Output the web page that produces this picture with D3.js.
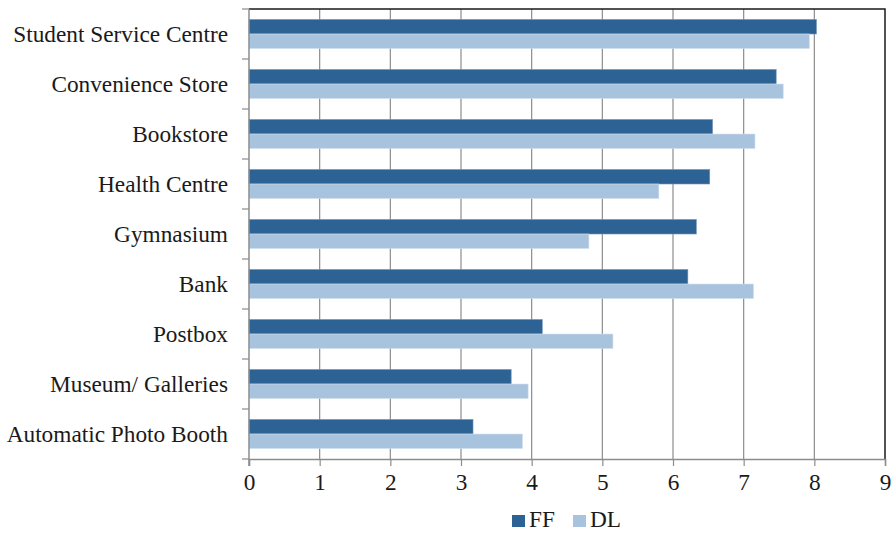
<!DOCTYPE html>
<html>
<head>
<meta charset="utf-8">
<script src="https://cdn.jsdelivr.net/npm/d3@7/dist/d3.min.js"></script>
<style>
  html, body { margin: 0; padding: 0; background: #fff; }
  svg { display: block; }
  text { font-family: "Liberation Serif", "Times New Roman", serif; fill: #1a1a1a; }
</style>
</head>
<body>
<svg id="chart" width="896" height="534"></svg>
<script>
// Campus facilities, top to bottom
const categories = [
  "Student Service Centre",
  "Convenience Store",
  "Bookstore",
  "Health Centre",
  "Gymnasium",
  "Bank",
  "Postbox",
  "Museum/ Galleries",
  "Automatic Photo Booth"
];
const seriesNames = ["FF", "DL"];
const ffValues = [8.03, 7.46, 6.56, 6.52, 6.33, 6.21, 4.15, 3.71, 3.17];
const dlValues = [7.93, 7.56, 7.16, 5.80, 4.81, 7.14, 5.15, 3.95, 3.87];
const xTicks = [0, 1, 2, 3, 4, 5, 6, 7, 8, 9];
const colors = ["#2d6394", "#a8c3de"];

const svg = d3.select("#chart");
const plotLeft = 249, plotRight = 885, plotTop = 9, plotBottom = 459;
const fontSize = 23.3;

const x = d3.scaleLinear().domain([0, 9]).range([plotLeft, plotRight]);
const y = d3.scaleBand().domain(categories).range([plotTop, plotBottom]).paddingInner(0.42).paddingOuter(0.21);
const ySub = d3.scaleBand().domain(seriesNames).range([0, y.bandwidth()]);

// vertical gridlines
svg.append("g").selectAll("line").data(xTicks.slice(1, -1)).join("line")
  .attr("x1", d => x(d)).attr("x2", d => x(d))
  .attr("y1", plotTop).attr("y2", plotBottom)
  .attr("stroke", "#8c8c8c").attr("stroke-width", 1.2);

// bars
const rows = categories.map((c, i) => ({ c, vals: [ffValues[i], dlValues[i]] }));
const groups = svg.append("g").selectAll("g").data(rows).join("g")
  .attr("transform", d => `translate(0,${y(d.c)})`);
groups.selectAll("rect").data(d => d.vals.map((v, k) => ({ v, k })))
  .join("rect")
  .attr("x", x(0))
  .attr("y", d => ySub(seriesNames[d.k]))
  .attr("width", d => x(d.v) - x(0))
  .attr("height", ySub.bandwidth())
  .attr("fill", d => colors[d.k])
  .attr("stroke", d => d.k === 0 ? "#6f93b8" : "#d3e0ee")
  .attr("stroke-width", 0.6);

// frame: dark top and right edges
svg.append("path")
  .attr("d", `M${plotLeft},${plotTop}H${plotRight}V${plotBottom}`)
  .attr("fill", "none").attr("stroke", "#1a1a1a").attr("stroke-width", 1.5);

// bottom axis
const xAxis = svg.append("g").attr("transform", `translate(0,${plotBottom})`)
  .call(d3.axisBottom(x).tickValues(xTicks).tickSize(7).tickPadding(7).tickFormat(d3.format("d")));
xAxis.select(".domain").attr("stroke", "#8c8c8c").attr("stroke-width", 1.5);
xAxis.selectAll(".tick line").attr("stroke", "#8c8c8c").attr("stroke-width", 1.2);
xAxis.selectAll("text").attr("font-size", fontSize).attr("font-family", "Liberation Serif").attr("fill", "#1a1a1a");

// left axis with ticks at category boundaries
svg.append("line").attr("x1", plotLeft).attr("x2", plotLeft).attr("y1", plotTop).attr("y2", plotBottom + 7)
  .attr("stroke", "#8c8c8c").attr("stroke-width", 1.5);
const boundaries = d3.range(categories.length + 1).map(i => plotTop + i * (plotBottom - plotTop) / categories.length);
svg.append("g").selectAll("line").data(boundaries).join("line")
  .attr("x1", plotLeft - 7).attr("x2", plotLeft).attr("y1", d => d).attr("y2", d => d)
  .attr("stroke", "#8c8c8c").attr("stroke-width", 1.2);

// category labels
svg.append("g").selectAll("text").data(categories).join("text")
  .attr("x", plotLeft - 21)
  .attr("y", d => y(d) + y.bandwidth() / 2)
  .attr("dy", "0.33em")
  .attr("text-anchor", "end")
  .attr("font-size", fontSize)
  .text(d => d);

// legend
const legend = svg.append("g").attr("transform", "translate(512,527)");
const items = [{ name: "FF", x: 0 }, { name: "DL", x: 61 }];
items.forEach((it, i) => {
  legend.append("rect").attr("x", it.x).attr("y", -12).attr("width", 13).attr("height", 12).attr("fill", colors[i]);
  legend.append("text").attr("x", it.x + 17).attr("y", 0).attr("font-size", fontSize).text(it.name);
});
</script>
</body>
</html>
